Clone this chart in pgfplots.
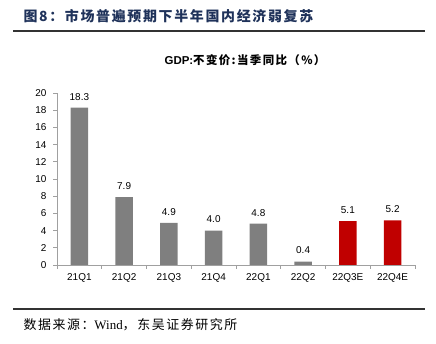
\documentclass[border=0pt]{standalone}
\usepackage{pgfplots}
\pgfplotsset{compat=1.18}
\usepackage{fontspec}
\setmainfont{Liberation Sans}
\newfontfamily\cjk{Noto Sans CJK SC}
\newfontfamily\cjkls{Noto Sans CJK SC}[LetterSpace=12]
\newfontfamily\serifw{Liberation Serif}
\definecolor{titlecol}{RGB}{31,50,90}
\definecolor{bargray}{RGB}{127,127,127}
\definecolor{barred}{RGB}{192,0,0}
\definecolor{axgray}{RGB}{160,160,160}
\begin{document}
\begin{tikzpicture}
\path (0bp,0bp) rectangle (436bp,344bp);
\node[anchor=west, text=titlecol, font=\cjkls\bfseries\fontsize{14}{16}\selectfont] at (20bp,328bp) {图8：市场普遍预期下半年国内经济弱复苏};
\draw[line width=1.5bp, black!80] (13bp,313bp) -- (425bp,313bp);
\node[font=\cjkls\bfseries\fontsize{11.5}{13}\selectfont] at (245bp,284bp) {{\bfseries\sffamily\fontspec{Liberation Sans}GDP:}不变价:当季同比（\%）};
\begin{axis}[
  at={(57bp,79bp)}, anchor=south west,
  scale only axis, width=358bp, height=172bp,
  xmin=-0.5, xmax=7.5, ymin=0, ymax=20,
  axis x line*=bottom, axis y line*=left,
  axis line style={axgray, line width=0.8bp},
  xtick={0,...,7},
  xticklabels={21Q1,21Q2,21Q3,21Q4,22Q1,22Q2,22Q3E,22Q4E},
  minor xtick={-0.5,0.5,...,7.5},
  ytick={0,2,...,20},
  tick align=outside,
  major tick length=4bp, minor tick length=4bp,
  x tick style={draw=none},
  minor x tick style={draw=axgray, line width=0.8bp},
  y tick style={draw=axgray, line width=0.8bp},
  tick label style={font=\fontsize{10}{12}\selectfont},
  /pgf/number format/assume math mode=true,
  yticklabel style={xshift=-3bp},
  xticklabel style={yshift=-1bp},
  ybar, bar width=17.5bp, bar shift=0pt,
  nodes near coords={\pgfmathprintnumber[fixed,fixed zerofill,precision=1]{\pgfplotspointmeta}},
  nodes near coords style={font=\fontsize{10}{12}\selectfont, text=black, yshift=4bp},
]
\addplot[fill=bargray, draw=none] coordinates {(0,18.3) (1,7.9) (2,4.9) (3,4.0) (4,4.8) (5,0.4)};
\addplot[fill=barred, draw=none] coordinates {(6,5.1) (7,5.2)};
\end{axis}
\draw[line width=1.5bp, black!80] (13bp,35bp) -- (425bp,35bp);
\node[anchor=west, font=\cjkls\fontsize{13}{15}\selectfont] at (20bp,19bp) {数据来源：{\serifw Wind}，东吴证券研究所};
\end{tikzpicture}
\end{document}
